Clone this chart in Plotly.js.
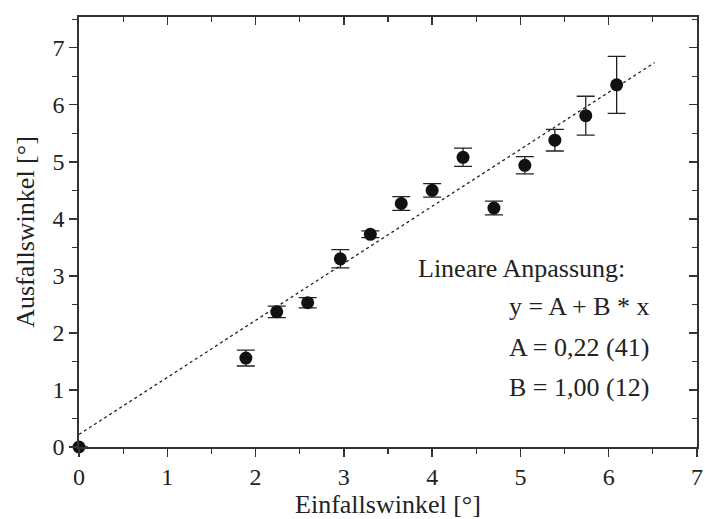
<!DOCTYPE html>
<html>
<head>
<meta charset="utf-8">
<script src="https://cdn.plot.ly/plotly-3.0.1.min.js"></script>
<style>html,body{margin:0;padding:0;background:#fff;}#chart{width:705px;height:519px;}</style>
</head>
<body>
<div id="chart"></div>
<script>
// Measured data
const einfall = [0, 1.89, 2.24, 2.59, 2.96, 3.30, 3.65, 4.00, 4.35, 4.70, 5.05, 5.39, 5.74, 6.09];
const ausfall = [0, 1.56, 2.37, 2.53, 3.30, 3.73, 4.27, 4.50, 5.08, 4.19, 4.94, 5.38, 5.81, 6.35];
const fehler  = [0, 0.14, 0.10, 0.09, 0.16, 0.06, 0.12, 0.12, 0.16, 0.12, 0.15, 0.19, 0.34, 0.50];

// Linear fit parameters
const fitA = 0.22;
const fitB = 1.00;
const fitX = [0, 6.52];
const fitY = fitX.map(x => fitA + fitB * x);

const fitLabels = ["Lineare Anpassung:", "y = A + B * x", "A = 0,22 (41)", "B = 1,00 (12)"];

const FONT = "Liberation Serif, Times New Roman, serif";
const AX = "#333";

const traces = [
  {
    x: fitX, y: fitY, type: "scatter", mode: "lines",
    line: {color: "#222", width: 1.3, dash: "dot"},
    hoverinfo: "skip", cliponaxis: false
  },
  {
    x: einfall, y: ausfall, type: "scatter", mode: "markers",
    marker: {color: "#111", size: 13},
    error_y: {type: "data", array: fehler, visible: true, color: "#222", thickness: 1.3, width: 9},
    cliponaxis: false
  }
];

const baseAxis = {
  showgrid: false, zeroline: false, showline: true,
  linecolor: AX, linewidth: 1.6, tickcolor: AX, tickwidth: 1.3,
  ticklen: 8, dtick: 1, tick0: 0
};

const layout = {
  width: 705, height: 519,
  margin: {l: 79, r: 8, t: 17, b: 72},
  paper_bgcolor: "#fff", plot_bgcolor: "#fff",
  showlegend: false,
  font: {family: FONT, color: "#222", size: 24},
  xaxis: Object.assign({}, baseAxis, {
    range: [0, 7], ticks: "outside",
    minor: {ticks: "outside", dtick: 0.5, ticklen: 5, tickcolor: AX, tickwidth: 1.2},
    tickfont: {family: FONT, size: 24, color: "#222"},
    title: {text: "Einfallswinkel [°]", font: {family: FONT, size: 26, color: "#222"}, standoff: 5}
  }),
  yaxis: Object.assign({}, baseAxis, {
    range: [0, 7.54], ticks: "outside",
    minor: {ticks: "outside", dtick: 0.5, ticklen: 5, tickcolor: AX, tickwidth: 1.2},
    tickfont: {family: FONT, size: 24, color: "#222"},
    title: {text: "Ausfallswinkel [°]", font: {family: FONT, size: 26, color: "#222"}, standoff: 10}
  }),
  xaxis2: Object.assign({}, baseAxis, {
    overlaying: "x", side: "top", matches: "x", range: [0, 7],
    ticks: "inside", showticklabels: false,
    minor: {ticks: "inside", dtick: 0.5, ticklen: 5, tickcolor: AX, tickwidth: 1.2}
  }),
  yaxis2: Object.assign({}, baseAxis, {
    overlaying: "y", side: "right", range: [0, 7.54],
    ticks: "inside", showticklabels: false,
    minor: {ticks: "inside", dtick: 0.5, ticklen: 5, tickcolor: AX, tickwidth: 1.2}
  }),
  annotations: []
};

// annotation placement (pixel rows / columns converted to paper coordinates)
const plotTop = 17, plotH = 519 - 17 - 72, plotL = 79, plotW = 705 - 79 - 8;
const annLeft = [416, 507, 507, 507];
const annRow = [268, 306, 347, 387];
fitLabels.forEach((t, i) => {
  layout.annotations.push({
    text: t, xref: "paper", yref: "paper",
    x: (annLeft[i] - plotL) / plotW,
    y: 1 - (annRow[i] - plotTop) / plotH,
    xanchor: "left", yanchor: "middle", showarrow: false,
    font: {family: FONT, size: 26, color: "#222"}
  });
});

// dummy trace to activate the mirror axes
traces.push({x: [null], y: [null], xaxis: "x2", yaxis: "y2", type: "scatter", hoverinfo: "skip", showlegend: false});

Plotly.newPlot("chart", traces, layout, {displayModeBar: false, staticPlot: true});
</script>
</body>
</html>
